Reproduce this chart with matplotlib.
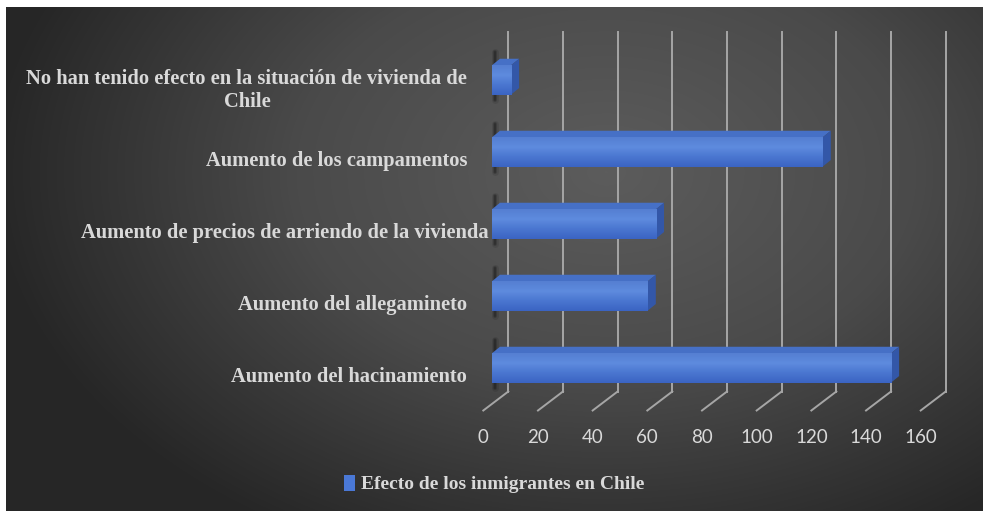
import matplotlib.pyplot as plt
import numpy as np
from matplotlib.patches import Polygon, Patch
from matplotlib.colors import LinearSegmentedColormap
from matplotlib.transforms import ScaledTranslation

categorias = ["Aumento del hacinamiento",
              "Aumento del allegamineto",
              "Aumento de precios de arriendo de la vivienda",
              "Aumento de los campamentos",
              "No han tenido efecto en la situación de vivienda de\nChile"]
valores = [146, 57, 60, 121, 7]
ticks_x = [0, 20, 40, 60, 80, 100, 120, 140, 160]
serie = "Efecto de los inmigrantes en Chile"

W, H = 983, 511
fig = plt.figure(figsize=(W / 100, H / 100), dpi=100)
fig.patch.set_facecolor("white")

# fondo oscuro con degradado radial
bg = fig.add_axes([6 / W, 0, 1 - 6 / W, 1 - 7 / H])
yy, xx = np.mgrid[0:504, 0:977]
d = np.sqrt(((xx - 600) / 620.0) ** 2 + ((yy - 165) / 420.0) ** 2)
d = np.clip(d, 0, 1)
gris = LinearSegmentedColormap.from_list("g", ["#5c5c5c", "#4a4a4a", "#262626"])
bg.imshow(d, cmap=gris, vmin=0, vmax=1, aspect="auto", interpolation="bilinear")
bg.axis("off")

ax = fig.add_axes([483.3 / W, (H - 410.5) / H, 437.4 / W, 360 / H])
ax.set_xlim(0, 160)
ax.set_ylim(-0.5, 4.5)
ax.patch.set_alpha(0)
for s in ax.spines.values():
    s.set_visible(False)

# profundidad 3D: pixeles -> unidades de datos
px_x = 437.4 / 160
px_y = 72.0


def off(dx, dy):
    return dx / px_x, dy / px_y


fondo = off(25, 19)
plano = off(8.4, 6.4)
prof = off(8.3, 6.7)

# rejilla del fondo y del piso
for v in ticks_x:
    ax.plot([v + fondo[0]] * 2, [-0.5 + fondo[1], 4.5 + fondo[1]],
            color="#a6a6a6", lw=1.4, clip_on=False, zorder=1)
    ax.plot([v, v + fondo[0]], [-0.5, -0.5 + fondo[1]],
            color="#a6a6a6", lw=1.4, clip_on=False, zorder=1)

frente = LinearSegmentedColormap.from_list(
    "f", ["#3b64c3", "#4a76d0", "#5e8bde", "#557fd2"])
grad = np.linspace(0, 1, 64).reshape(-1, 1)
alto = 0.2035

for i, v in enumerate(valores):
    x0 = plano[0]
    x1 = v + plano[0]
    y0 = i - alto + plano[1]
    y1 = i + alto + plano[1]
    # sombra difusa junto al eje
    for lw, a in [(5, 0.12), (3, 0.2), (1.5, 0.3)]:
        ax.plot([x0 + 1.2] * 2, [y0 - 0.07, y1 + prof[1] + 0.1], color="#101010",
                lw=lw, alpha=a, solid_capstyle="round", clip_on=False, zorder=2)
    ax.add_patch(Polygon([(x0, y1), (x1, y1), (x1 + prof[0], y1 + prof[1]),
                          (x0 + prof[0], y1 + prof[1])],
                         closed=True, facecolor="#4670c6", edgecolor="none",
                         clip_on=False, zorder=3))
    ax.add_patch(Polygon([(x1, y0), (x1, y1), (x1 + prof[0], y1 + prof[1]),
                          (x1 + prof[0], y0 + prof[1])],
                         closed=True, facecolor="#3357a8", edgecolor="none",
                         clip_on=False, zorder=3))
    ax.imshow(grad, cmap=frente, extent=[x0, x1, y0, y1], aspect="auto",
              origin="lower", interpolation="bilinear", zorder=4, clip_on=False)

ax.set_xlim(0, 160)
ax.set_ylim(-0.5, 4.5)

ax.set_xticks(ticks_x)
ax.set_xticklabels([str(t) for t in ticks_x], fontfamily="Lato", fontsize=13.5,
                   color="#d9d9d9")
ax.tick_params(axis="x", length=0, pad=13)

ax.set_yticks(range(len(categorias)))
ax.set_yticklabels(categorias, fontfamily="Liberation Serif", fontweight="bold",
                   fontsize=14.8, color="#d9d9d9", linespacing=1.2)
ax.tick_params(axis="y", length=0, pad=11.5)
for lbl in ax.get_yticklabels():
    lbl.set_multialignment("center")
    if "precios" in lbl.get_text():
        lbl.set_transform(lbl.get_transform() +
                          ScaledTranslation(21 / 100, 0, fig.dpi_scale_trans))

fig.legend(handles=[Patch(facecolor="#4a78d6", edgecolor="none")], labels=[serie],
           loc="center", bbox_to_anchor=(494 / W, 1 - 484 / H), frameon=False,
           handlelength=0.55, handleheight=0.9, handletextpad=0.3,
           prop={"family": "Liberation Serif", "weight": "bold", "size": 14},
           labelcolor="#d9d9d9")

fig.savefig("out.png", dpi=100, facecolor="white")
